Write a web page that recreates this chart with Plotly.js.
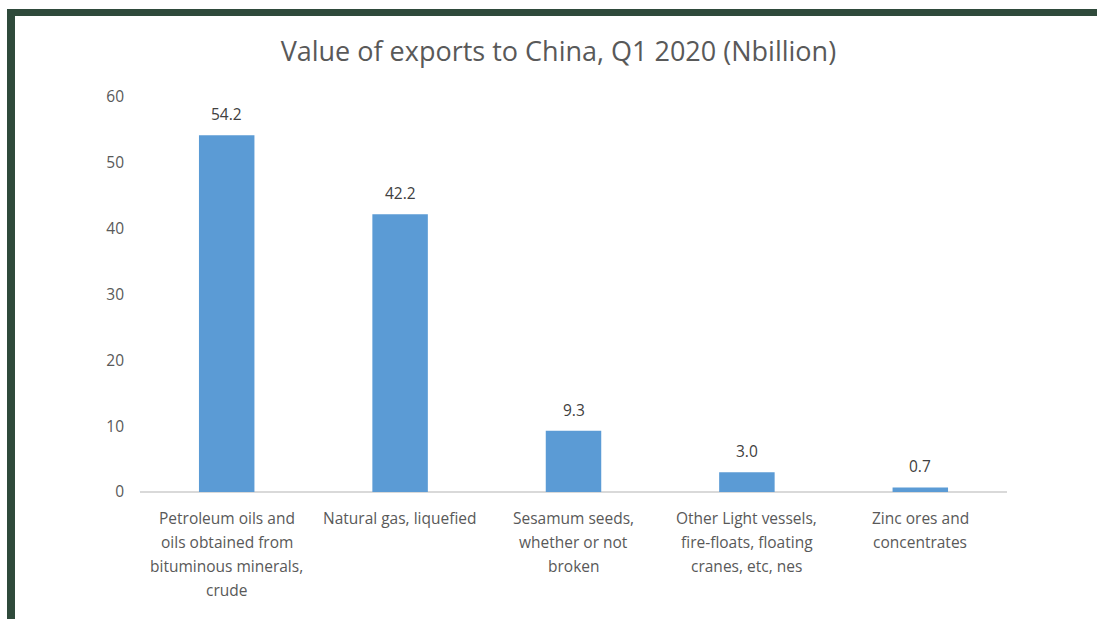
<!DOCTYPE html>
<html>
<head>
<meta charset="utf-8">
<script src="https://cdn.plot.ly/plotly-3.0.1.min.js"></script>
<style>
  html, body { margin: 0; padding: 0; background: #ffffff; }
  #wrap { position: relative; width: 1097px; height: 619px; overflow: hidden; }
  #chart { position: absolute; left: 0; top: 0; width: 1097px; height: 619px; }
  #frameTop { position: absolute; left: 7px; top: 9px; width: 1090px; height: 7px; background: #2f4a3b; pointer-events: none; }
  #frameLeft { position: absolute; left: 7px; top: 9px; width: 8px; height: 610px; background: #2f4a3b; pointer-events: none; }
</style>
</head>
<body>
<div id="wrap">
  <div id="chart"></div>
  <div id="frameTop"></div>
  <div id="frameLeft"></div>
</div>
<script>
const categories = [
  "Petroleum oils and<br>oils obtained from<br>bituminous minerals,<br>crude",
  "Natural gas, liquefied",
  "Sesamum seeds,<br>whether or not<br>broken",
  "Other Light vessels,<br>fire-floats, floating<br>cranes, etc, nes",
  "Zinc ores and<br>concentrates"
];
const values = [54.2, 42.2, 9.3, 3.0, 0.7];
const yTicks = [0, 10, 20, 30, 40, 50, 60];
const titleText = "Value of exports to China, Q1 2020 (Nbillion)";

const textColor = "#595959";
const fontFam = "'Open Sans', 'Liberation Sans', sans-serif";

const annotations = [];
// Category labels, one line per annotation for Excel-like line spacing
categories.forEach((c, i) => {
  c.split("<br>").forEach((line, j) => {
    annotations.push({
      x: i, y: 0, xref: "x", yref: "y",
      text: line, showarrow: false,
      xanchor: "center", yanchor: "middle",
      yshift: -(26 + j * 24),
      font: { family: fontFam, size: 15.5, color: textColor }
    });
  });
});
// Value labels
values.forEach((v, i) => {
  annotations.push({
    x: i, y: v, xref: "x", yref: "y",
    text: v.toFixed(1), showarrow: false,
    xanchor: "center", yanchor: "middle",
    yshift: 21,
    font: { family: fontFam, size: 15.5, color: "#404040" }
  });
});

const trace = {
  type: "bar",
  x: categories.map((c, i) => i),
  y: values,
  marker: { color: "#5b9bd5" },
  hoverinfo: "y"
};

const layout = {
  width: 1097, height: 619,
  margin: { l: 140, r: 90, t: 97, b: 127 },
  paper_bgcolor: "#ffffff",
  plot_bgcolor: "#ffffff",
  bargap: 0.68,
  showlegend: false,
  title: {
    text: titleText,
    x: 0.509, xanchor: "center",
    y: 1 - 52 / 619, yanchor: "middle", yref: "container",
    font: { family: fontFam, size: 27, color: textColor }
  },
  xaxis: {
    range: [-0.5, 4.5],
    showticklabels: false,
    showgrid: false,
    zeroline: false,
    showline: false,
    ticks: ""
  },
  yaxis: {
    range: [0, 60],
    tickvals: yTicks,
    ticktext: yTicks.map(String),
    showgrid: false,
    zeroline: true,
    zerolinecolor: "#d9d9d9",
    zerolinewidth: 1.5,
    showline: false,
    ticks: "",
    ticklabelstandoff: 15,
    tickfont: { family: fontFam, size: 15.5, color: textColor }
  },
  annotations: annotations
};

Plotly.newPlot("chart", [trace], layout, { displayModeBar: false, staticPlot: true });
</script>
</body>
</html>
